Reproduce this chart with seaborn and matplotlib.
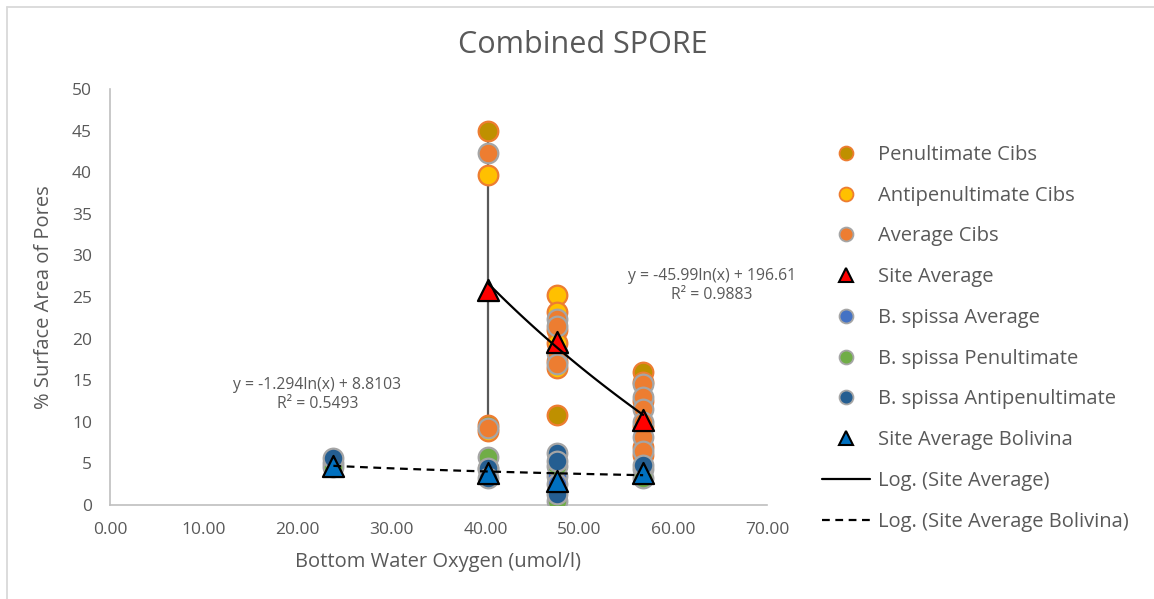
import numpy as np
import pandas as pd
import matplotlib
matplotlib.use("Agg")
import matplotlib.pyplot as plt
from matplotlib.lines import Line2D
import seaborn as sns

# Bottom-water oxygen (umol/l) and pore area (%) per specimen group
pen_cibs_x = [40.3, 40.3, 47.6, 47.6, 47.6, 56.8, 56.8, 56.8]
pen_cibs_y = [45.0, 9.6, 21.0, 17.3, 10.8, 16.0, 12.5, 7.0]

antipen_cibs_x = [40.3, 40.3, 47.6, 47.6, 47.6, 47.6, 56.8, 56.8, 56.8]
antipen_cibs_y = [39.7, 8.9, 25.2, 23.2, 19.5, 16.5, 14.8, 9.5, 6.0]

avg_cibs_x = [40.3, 40.3, 47.6, 47.6, 47.6, 47.6, 56.8, 56.8, 56.8, 56.8, 56.8, 56.8]
avg_cibs_y = [42.3, 9.3, 22.3, 21.5, 18.3, 17.0, 14.6, 13.0, 11.5, 10.0, 8.2, 6.5]

site_avg_x = [40.3, 47.6, 56.8]
site_avg_y = [25.8, 19.6, 10.2]

bsp_avg_x = [23.8, 40.3, 47.6, 47.6, 56.8]
bsp_avg_y = [5.0, 4.3, 3.5, 2.5, 4.3]

bsp_pen_x = [23.8, 40.3, 47.6, 47.6, 56.8]
bsp_pen_y = [4.6, 5.8, 4.7, 0.5, 3.3]

bsp_antipen_x = [23.8, 40.3, 40.3, 47.6, 47.6, 47.6, 56.8]
bsp_antipen_y = [5.6, 4.5, 3.3, 6.2, 5.3, 1.3, 4.8]

site_avg_bol_x = [23.8, 40.3, 47.6, 56.8]
site_avg_bol_y = [4.7, 3.9, 2.9, 3.8]

# Range bar at the 40.3 site
range_x = [40.3, 40.3]
range_y = [9.8, 45.0]

# Logarithmic trendline coefficients: y = a*ln(x) + b, with R^2
fit_site = (-45.99, 196.61, 0.9883)
fit_bol = (-1.294, 8.8103, 0.5493)

x_ticks = [0, 10, 20, 30, 40, 50, 60, 70]
y_ticks = [0, 5, 10, 15, 20, 25, 30, 35, 40, 45, 50]

sns.set_theme(style="white")
plt.rcParams["font.family"] = ["Open Sans", "DejaVu Sans"]
TXT = "#595959"

fig = plt.figure(figsize=(11.54, 5.99), dpi=100)
ax = fig.add_axes([110 / 1154, 1 - 505 / 599, (767 - 110) / 1154, (505 - 89) / 599])

ax.plot(range_x, range_y, color="#595959", lw=1.6, zorder=1)

series = [
    ("Penultimate Cibs", pen_cibs_x, pen_cibs_y, "o", "#BF9000", "#ED7D31"),
    ("Antipenultimate Cibs", antipen_cibs_x, antipen_cibs_y, "o", "#FFC000", "#ED7D31"),
    ("Average Cibs", avg_cibs_x, avg_cibs_y, "o", "#ED7D31", "#A5A5A5"),
    ("Site Average", site_avg_x, site_avg_y, "^", "#FF0000", "#000000"),
    ("B. spissa Average", bsp_avg_x, bsp_avg_y, "o", "#4472C4", "#A5A5A5"),
    ("B. spissa Penultimate", bsp_pen_x, bsp_pen_y, "o", "#70AD47", "#A5A5A5"),
    ("B. spissa Antipenultimate", bsp_antipen_x, bsp_antipen_y, "o", "#255E91", "#A5A5A5"),
    ("Site Average Bolivina", site_avg_bol_x, site_avg_bol_y, "^", "#0070C0", "#000000"),
]

handles = []
for i, (name, xs, ys, mk, fc, ec) in enumerate(series):
    df = pd.DataFrame({"x": xs, "y": ys})
    if mk == "^":
        sns.scatterplot(data=df, x="x", y="y", marker="^", s=230, color=fc,
                        edgecolor=ec, linewidth=1.6, zorder=4 + i, ax=ax)
        handles.append(Line2D([], [], ls="none", marker="^", ms=10, mfc=fc,
                              mec=ec, mew=1.5, label=name))
    else:
        sns.scatterplot(data=df, x="x", y="y", marker="o", s=200, color=fc,
                        edgecolor=ec, linewidth=1.6, zorder=3 + i, ax=ax)
        handles.append(Line2D([], [], ls="none", marker="o", ms=10, mfc=fc,
                              mec=ec, mew=1.3, label=name))

# Trendlines drawn from their coefficients
xs_site = np.linspace(min(site_avg_x), max(site_avg_x), 100)
df_site = pd.DataFrame({"x": xs_site, "y": fit_site[0] * np.log(xs_site) + fit_site[1]})
sns.lineplot(data=df_site, x="x", y="y", color="black", lw=1.6, zorder=20, ax=ax)

xs_bol = np.linspace(min(site_avg_bol_x), max(site_avg_bol_x), 100)
df_bol = pd.DataFrame({"x": xs_bol, "y": fit_bol[0] * np.log(xs_bol) + fit_bol[1]})
sns.lineplot(data=df_bol, x="x", y="y", color="black", lw=1.6, ls=(0, (3.5, 2.5)),
             zorder=20, ax=ax)

handles.append(Line2D([], [], color="black", lw=1.6, label="Log. (Site Average)"))
handles.append(Line2D([], [], color="black", lw=1.6, ls=(0, (3.5, 2.5)),
                      label="Log. (Site Average Bolivina)"))

# Equation labels
ax.text(64.1, 26.4, f"y = {fit_site[0]:.2f}ln(x) + {fit_site[1]:.2f}\nR² = {fit_site[2]:.4f}",
        ha="center", va="center", fontsize=11.3, color=TXT, linespacing=1.3)
ax.text(22.1, 13.3, f"y = {fit_bol[0]:.3f}ln(x) + {fit_bol[1]:.4f}\nR² = {fit_bol[2]:.4f}",
        ha="center", va="center", fontsize=11.3, color=TXT, linespacing=1.3)

ax.set_xlim(0, 70)
ax.set_ylim(0, 50)
ax.set_xticks(x_ticks)
ax.set_xticklabels([f"{v:.2f}" for v in x_ticks])
ax.set_yticks(y_ticks)
ax.set_yticklabels([str(v) for v in y_ticks])
ax.tick_params(axis="both", length=0, labelsize=12.5, labelcolor=TXT)
ax.tick_params(axis="y", pad=13)
ax.tick_params(axis="x", pad=12)
for side in ["top", "right"]:
    ax.spines[side].set_visible(False)
for side in ["left", "bottom"]:
    ax.spines[side].set_color("#BFBFBF")
    ax.spines[side].set_linewidth(1.2)
ax.grid(False)

ax.set_xlabel("Bottom Water Oxygen (umol/l)", fontsize=14.5, color=TXT, labelpad=10)
ax.set_ylabel("% Surface Area of Pores", fontsize=14.5, color=TXT, labelpad=13)
fig.text(583 / 1154, 1 - 45 / 599, "Combined SPORE", ha="center", va="center",
         fontsize=22, color=TXT)

fig.legend(handles=handles, loc="upper left", bbox_to_anchor=(822 / 1154, 1 - 145 / 599),
           frameon=False, fontsize=14.5, labelcolor=TXT, handlelength=2.4,
           handletextpad=0.4, labelspacing=1.03, borderaxespad=0, borderpad=0)

# Chart-area frame
fig.add_artist(Line2D([7 / 1154, 1], [1 - 6.5 / 599] * 2, color="#D9D9D9", lw=1.3))
fig.add_artist(Line2D([7 / 1154] * 2, [0, 1 - 6.5 / 599], color="#D9D9D9", lw=1.3))

fig.savefig("out.png", dpi=100, facecolor="white")
